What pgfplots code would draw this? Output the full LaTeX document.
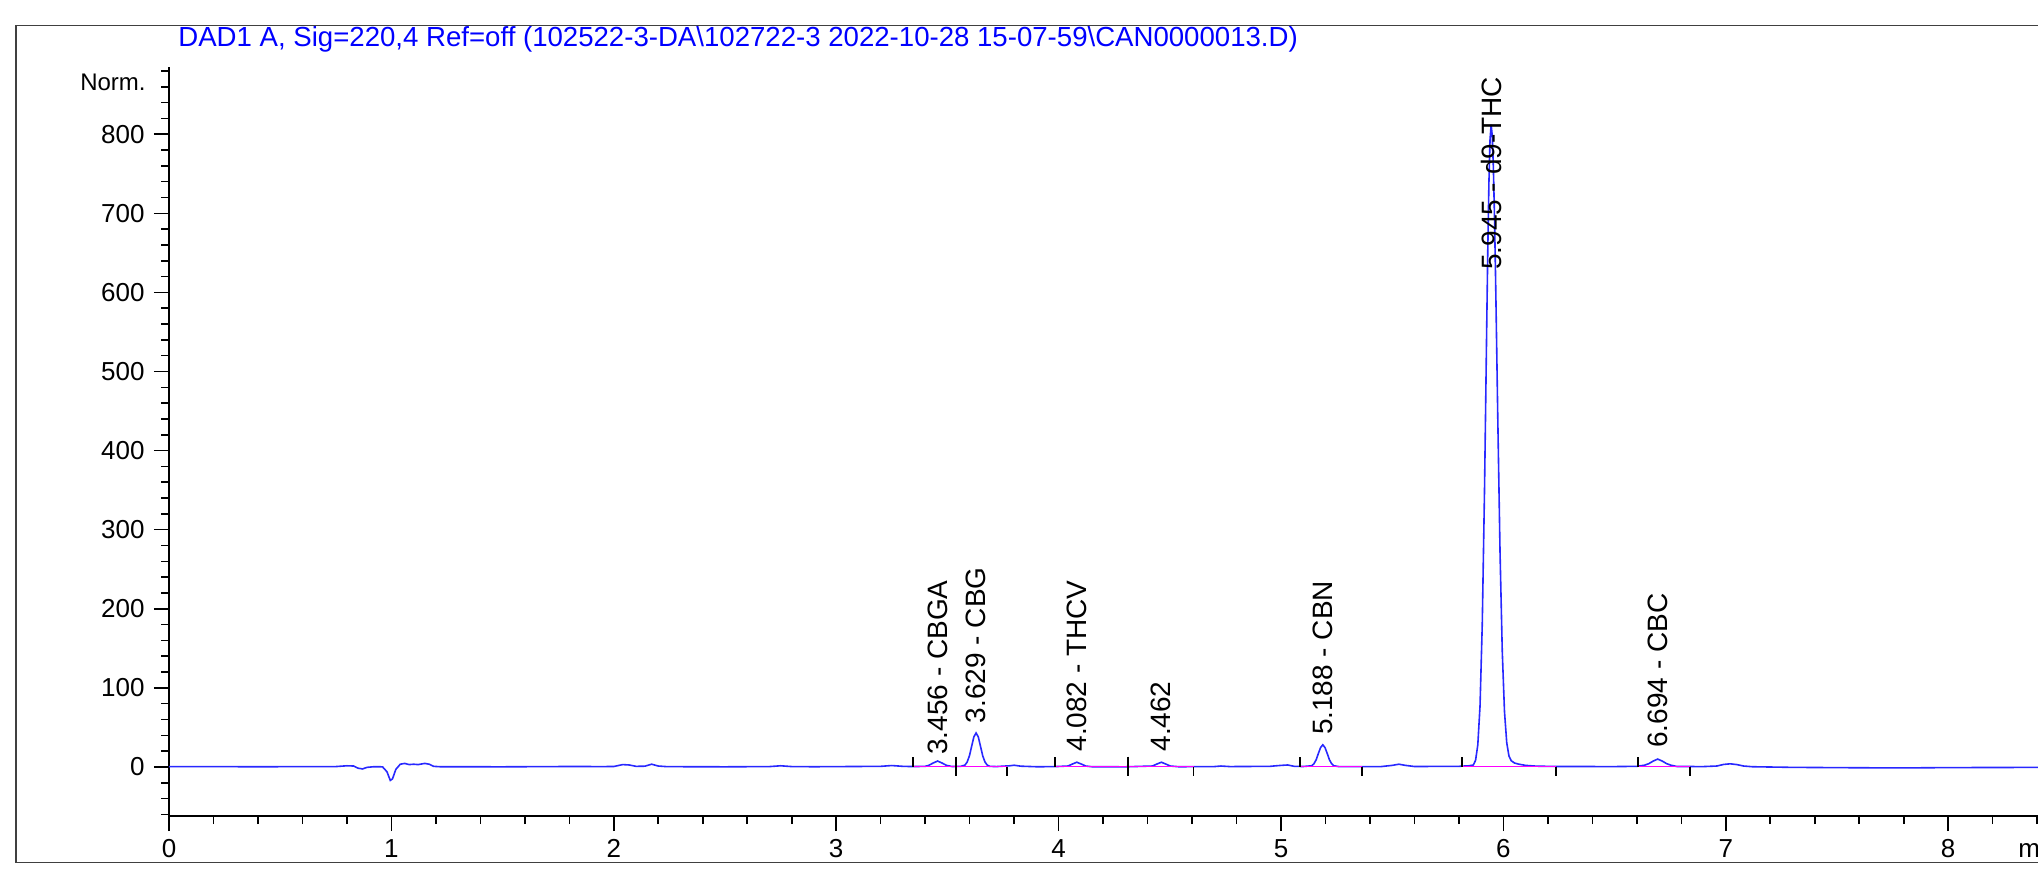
\documentclass[border=0pt]{standalone}
\usepackage{fontspec}
\setmainfont{Liberation Sans}
\usepackage{pgfplots}
\pgfplotsset{compat=1.18}
\definecolor{trace}{RGB}{40,40,255}
\definecolor{titleblue}{RGB}{0,0,255}
\definecolor{basepink}{RGB}{255,0,255}
\begin{document}
\begin{tikzpicture}
\useasboundingbox (0,0) rectangle (1019pt,440pt);
\draw[line width=0.7pt, black!75] (8pt,8.75pt) rectangle (1045pt,427.25pt);
\node[anchor=base west, inner sep=0pt, text=titleblue, font=\fontsize{13.8}{16}\selectfont] at (89pt,416.5pt)
 {DAD1 A, Sig=220,4 Ref=off (102522-3-DA\textbackslash 102722-3 2022-10-28 15-07-59\textbackslash CAN0000013.D)};
\begin{axis}[
 scale only axis, width=956.3pt, height=374.5pt,
 at={(84.5pt,32pt)}, anchor=south west,
 xmin=0, xmax=8.6, ymin=-62, ymax=885,
 axis x line*=bottom, axis y line*=left,
 x axis line style={-}, y axis line style={-},
 axis line style={line width=0.8pt, black},
 xtick={0,1,...,8}, minor xtick={0.2,0.4,...,8.6},
 ytick={0,100,...,800}, minor ytick={-60,-40,...,880},
 tick align=outside,
 major tick length=7.5pt, minor tick length=4pt,
 tick style={black, line width=0.8pt},
 /pgf/number format/assume math mode=true,
 ticklabel style={font=\fontsize{13}{15}\selectfont},
 xticklabel style={anchor=base, inner sep=0pt, yshift=-13pt},
 yticklabel style={anchor=east, inner sep=0pt, xshift=-4.5pt},
 clip=false,
 unbounded coords=jump,
]
\addplot[trace, line width=0.8pt] coordinates {
(0,0.5) (0.2,0.4) (0.4,0.3) (0.6,0.4) (0.75,0.5) (0.80,1.5) (0.83,1.2) (0.85,-1.5) (0.87,-2.5) (0.89,-0.5)
(0.92,0.3) (0.96,0.2) (0.98,-6) (0.995,-17) (1.005,-15) (1.02,-3) (1.04,3.5) (1.06,4.5) (1.08,3.0) (1.10,3.5)
(1.12,3.0) (1.15,4.5) (1.17,3.5) (1.19,0.8) (1.22,0.3) (1.5,0.2) (1.8,0.6) (1.95,0.5) (2.0,0.6) (2.04,3.0)
(2.07,2.5) (2.10,0.8) (2.14,1.0) (2.17,3.5) (2.20,1.2) (2.24,0.4) (2.5,0.2) (2.7,0.5) (2.75,1.5) (2.8,0.5)
(2.9,0.3) (3.2,0.8) (3.25,1.8) (3.3,0.8) (3.345,0.5) (3.40,0.8) (3.416,2) (3.436,5) (3.456,7.5) (3.476,5)
(3.496,2) (3.52,0.6) (3.56,0.8) (3.579,2.4) (3.589,6.3) (3.599,14) (3.609,26) (3.619,38) (3.629,43) (3.639,38)
(3.649,26) (3.659,14) (3.669,6.3) (3.679,2.4) (3.69,0.8) (3.72,0.5) (3.78,1.5) (3.80,2.2) (3.83,1.0) (3.9,0.3)
(3.98,0.4) (4.042,1.2) (4.062,3.7) (4.082,6) (4.102,3.7) (4.122,1.2) (4.15,0.3) (4.3,0.2) (4.422,1.2) (4.442,3.7)
(4.462,6) (4.482,3.7) (4.502,1.2) (4.54,0.3) (4.7,0.5) (4.73,1.2) (4.77,0.5) (4.95,0.8) (5.0,2.0) (5.03,2.5)
(5.06,0.8) (5.10,0.6) (5.138,1.5) (5.148,4) (5.158,9) (5.168,17) (5.178,24.5) (5.188,28) (5.198,24.5) (5.208,17)
(5.218,9) (5.228,4) (5.238,1.5) (5.26,0.5) (5.45,0.5) (5.50,2) (5.53,3.5) (5.56,2) (5.6,0.6) (5.8,0.8)
(5.845,1.5) (5.865,2.5) (5.875,8.5) (5.885,28) (5.895,77) (5.905,180) (5.915,347) (5.920,450) (5.925,556) (5.930,656)
(5.935,739) (5.940,793) (5.945,812) (5.950,798) (5.955,758) (5.960,696) (5.965,617) (5.970,529) (5.975,438) (5.985,271)
(5.995,146) (6.005,70) (6.015,31) (6.025,14) (6.035,8) (6.05,5) (6.07,3.5) (6.10,2) (6.15,1) (6.25,0.6)
(6.5,0.5) (6.60,0.8) (6.634,2.2) (6.654,4.2) (6.674,7.5) (6.694,10) (6.714,7.5) (6.734,4.2) (6.754,2.2) (6.78,0.6)
(6.9,0.5) (6.96,1.2) (6.99,3.2) (7.02,4) (7.05,3) (7.08,1.2) (7.12,0.3) (7.3,-0.5) (7.6,-1) (7.8,-1.2)
(8.0,-0.8) (8.3,-0.6) (8.6,-0.5)
};
% integration baselines
\addplot[basepink, line width=0.8pt] coordinates {
(3.345,0.4) (3.767,0.4) (3.767,nan)
(3.984,0.4) (4.607,0.4) (4.607,nan)
(5.085,0.4) (5.363,0.4) (5.363,nan)
(5.813,0.4) (6.237,0.4) (6.237,nan)
(6.605,0.4) (6.840,0.4)
};
% start / end tick marks
\addplot[black, line width=0.8pt] coordinates {
(3.345,0.4) (3.345,13) (3.345,nan)
(3.539,13) (3.539,-12) (3.539,nan)
(3.767,0.4) (3.767,-12) (3.767,nan)
(3.984,0.4) (3.984,13) (3.984,nan)
(4.312,13) (4.312,-12) (4.312,nan)
(4.607,0.4) (4.607,-12) (4.607,nan)
(5.085,0.4) (5.085,13) (5.085,nan)
(5.363,0.4) (5.363,-12) (5.363,nan)
(5.813,0.4) (5.813,13) (5.813,nan)
(6.237,0.4) (6.237,-12) (6.237,nan)
(6.605,0.4) (6.605,13) (6.605,nan)
(6.840,0.4) (6.840,-12)
};
\begin{scope}[every node/.style={rotate=90, anchor=west, inner sep=0pt, font=\fontsize{14}{16}\selectfont}]
\node at (axis cs:3.456,15) {3.456 - CBGA};
\node at (axis cs:3.629,55) {3.629 - CBG};
\node at (axis cs:4.082,19) {4.082 - THCV};
\node at (axis cs:4.462,19) {4.462};
\node at (axis cs:5.188,40) {5.188 - CBN};
\node at (axis cs:5.945,628) {5.945 - d9-THC};
\node at (axis cs:6.694,24) {6.694 - CBC};
\end{scope}
\node[anchor=east, inner sep=0pt, font=\fontsize{12}{14}\selectfont] at (axis cs:0,866) [xshift=-11.5pt] {Norm.};
\node[anchor=base west, inner sep=0pt, font=\fontsize{13}{15}\selectfont] at (axis cs:8.314,-62) [yshift=-20.5pt] {min};
\end{axis}
\end{tikzpicture}
\end{document}
